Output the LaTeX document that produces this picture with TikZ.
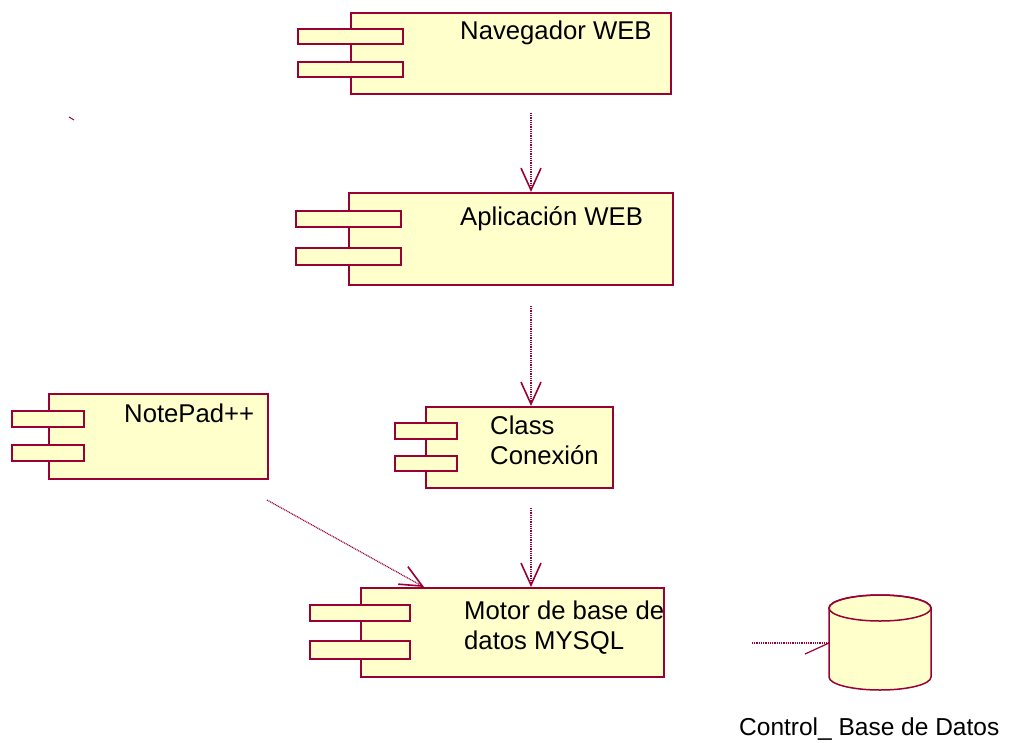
\documentclass[tikz,border=0pt]{standalone}
\usepackage{fontspec}
\setmainfont{Liberation Sans}
\usetikzlibrary{arrows.meta}
\definecolor{edgec}{HTML}{990033}
\definecolor{fillc}{HTML}{FFFFCC}
\begin{document}
\begin{tikzpicture}[x=1pt,y=-1pt,
  comp/.style={draw=edgec,fill=fillc,line width=2pt,rectangle,inner sep=0pt,anchor=north west},
  port/.style={draw=edgec,fill=fillc,line width=1.6pt,rectangle,inner sep=0pt,anchor=north west},
  lbl/.style={anchor=base west,inner sep=0pt,font=\fontsize{25.7}{30}\selectfont},
  dep/.style={draw=edgec,line width=1.2pt,dash pattern=on 1pt off 0.8pt,
    -{Straight Barb[length=22pt,width=20pt,line width=1.6pt]}}
]
\useasboundingbox (0,0) rectangle (1025,742);

% Navegador WEB
\node[comp,minimum width=320pt,minimum height=81pt] (nav) at (350,12) {};
\node[port,minimum width=105pt,minimum height=15pt] (nav1) at (297,28) {};
\node[port,minimum width=105pt,minimum height=15pt] (nav2) at (297,61) {};
\node[lbl] (navt) at (460,39) {Navegador WEB};

% Aplicacion WEB
\node[comp,minimum width=324pt,minimum height=92pt] (app) at (348,192) {};
\node[port,minimum width=105pt,minimum height=16pt] (app1) at (295,210) {};
\node[port,minimum width=105pt,minimum height=17pt] (app2) at (295,247) {};
\node[lbl] (appt) at (460,225) {Aplicación WEB};

% Class Conexion
\node[comp,minimum width=187pt,minimum height=81pt] (cls) at (425,406) {};
\node[port,minimum width=62pt,minimum height=16pt] (cls1) at (394,422) {};
\node[port,minimum width=62pt,minimum height=15pt] (cls2) at (394,455) {};
\node[lbl] (clst1) at (490,434) {Class};
\node[lbl] (clst2) at (490,464) {Conexión};

% NotePad++
\node[comp,minimum width=219pt,minimum height=85pt] (np) at (48,393) {};
\node[port,minimum width=72pt,minimum height=16pt] (np1) at (11,410) {};
\node[port,minimum width=72pt,minimum height=16pt] (np2) at (11,444) {};
\node[lbl] (npt) at (124,422) {NotePad++};

% Motor
\node[comp,minimum width=303pt,minimum height=89pt] (mot) at (360,587) {};
\node[port,minimum width=100pt,minimum height=16pt] (mot1) at (309,604) {};
\node[port,minimum width=100pt,minimum height=18pt] (mot2) at (309,640) {};
\node[lbl] (mott1) at (464,619) {Motor de base de};
\node[lbl] (mott2) at (464,649) {datos MYSQL};

% dependencies
\coordinate (d1) at (531,113);
\coordinate (d2) at (531,306);
\coordinate (d3) at (531,508);
\coordinate (d4) at (267,500);
\draw[dep] (d1) -- (d1 |- app.north);
\draw[dep] (d2) -- (d2 |- cls.north);
\draw[dep] (d3) -- (d3 |- mot.north);
\draw[dep] (d4) -- ([xshift=64pt]mot.north west);

% database
\draw[draw=edgec,fill=fillc,line width=1.5pt]
  (829,608) -- (829,677) arc[start angle=180,end angle=360,x radius=51pt,y radius=13pt]
  -- (931,608) arc[start angle=0,end angle=180,x radius=51pt,y radius=13pt] -- cycle;
\draw[draw=edgec,line width=1.5pt] (880,608) ellipse[x radius=51pt,y radius=13pt];
\coordinate (db) at (829,643);
\coordinate (d5) at (752,643);
\draw[draw=edgec,line width=1.2pt,dash pattern=on 1pt off 0.8pt] (d5) -- (db);
\draw[draw=edgec,line width=1.2pt] (805,654) -- (db);
\node[lbl,font=\fontsize{24.5}{29}\selectfont] (dbt) at (739,735) {Control\_ Base de Datos};

% stray mark
\draw[draw=edgec,line width=1pt] (69,117) -- (74,120);
\end{tikzpicture}
\end{document}
